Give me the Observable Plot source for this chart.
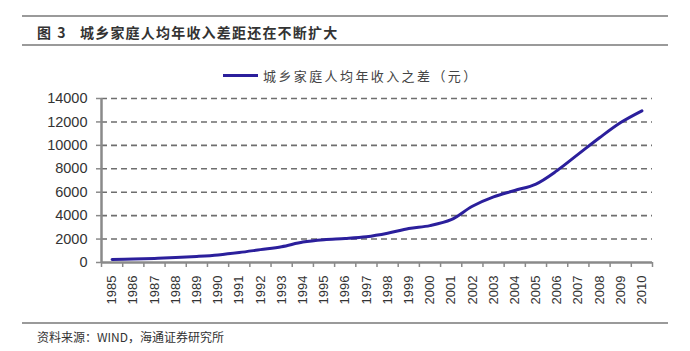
<!DOCTYPE html>
<html><head><meta charset="utf-8">
<script src="https://cdn.jsdelivr.net/npm/d3@7"></script>
<script src="https://cdn.jsdelivr.net/npm/@observablehq/plot@0.6"></script>
<style>
body{margin:0;background:#fff;}
#wrap{position:relative;width:690px;height:351px;overflow:hidden;background:#fff;}
.hr{position:absolute;left:22px;width:646px;background:#9a9a9a;}
#title{position:absolute;left:37px;top:22px;font-family:"Noto Sans CJK SC";font-weight:bold;font-size:14px;color:#333;white-space:nowrap;}
#title .f{letter-spacing:1.5px;}
#title .t{position:absolute;left:43px;top:0;letter-spacing:1.2px;}
#legend{position:absolute;left:223px;top:66px;font-family:"Noto Sans CJK SC";font-size:13px;color:#444;white-space:nowrap;display:flex;align-items:center;}
#legend .sw{display:inline-block;width:35px;height:2.5px;background:#2b1f9c;margin-right:5px;}
#legend .lt{letter-spacing:2.4px;}
#foot{position:absolute;left:37px;top:328px;font-family:"Noto Sans CJK SC";font-size:12px;color:#333;white-space:nowrap;}
#chart{position:absolute;left:0;top:0;}
</style></head>
<body>
<div id="wrap">
<div id="chart"></div>
<div class="hr" style="top:15px;height:1.5px"></div>
<div id="title"><span class="f">图&nbsp;3</span><span class="t">城乡家庭人均年收入差距还在不断扩大</span></div>
<div class="hr" style="top:44px;height:2px"></div>
<div id="legend"><span class="sw"></span><span class="lt">城乡家庭人均年收入之差（元）</span></div>
<div class="hr" style="top:322px;height:1.5px"></div>
<div id="foot">资料来源：WIND，海通证券研究所</div>
</div>
<script>
const years = [1985,1986,1987,1988,1989,1990,1991,1992,1993,1994,1995,1996,1997,1998,1999,2000,2001,2002,2003,2004,2005,2006,2007,2008,2009,2010];
const gap = [250,300,350,420,520,650,850,1100,1350,1750,1950,2050,2200,2500,2900,3150,3650,4800,5600,6150,6700,7850,9250,10650,11950,12950];
const yTicks = [0,2000,4000,6000,8000,10000,12000,14000];

const data = years.map((y,i)=>({year:y, value:gap[i]}));
const xMin = years[0]-0.5, xMax = years[years.length-1]+0.5;
const bounds = years.map(y=>y-0.5).concat([xMax]);

const chart = Plot.plot({
  width:690, height:351,
  marginLeft:101, marginRight:38, marginTop:98, marginBottom:89,
  style:{fontFamily:"'Liberation Sans', Arial, sans-serif", color:"#333", background:"transparent"},
  x:{domain:[xMin,xMax], axis:null},
  y:{domain:[0,14000], axis:null},
  marks:[
    Plot.gridY(yTicks.slice(1), {stroke:"#6e6e6e", strokeOpacity:1, strokeWidth:1.6, strokeDasharray:"6,4"}),
    Plot.axisY(yTicks, {tickSize:5, tickPadding:9, fontSize:14.5, tickFormat:d=>String(d), stroke:"#8a8a8a", strokeWidth:1.5, fill:"#333", label:null}),
    Plot.axisX(bounds, {tickSize:5, tickFormat:()=>"", stroke:"#8a8a8a", strokeWidth:1.5, label:null}),
    Plot.axisX(years, {tickSize:0, tickPadding:13, tickRotate:-90, tickFormat:d=>String(d), fontSize:13, fill:"#333", label:null}),
    Plot.ruleY([0], {stroke:"#8a8a8a", strokeWidth:2.5}),
    Plot.ruleX([xMin], {y1:0, y2:yTicks[yTicks.length-1], stroke:"#8a8a8a", strokeWidth:2.5}),
    Plot.line(data, {x:"year", y:"value", stroke:"#2b1f9c", strokeWidth:3, curve:"catmull-rom"})
  ]
});
document.getElementById("chart").appendChild(chart);
</script>
</body></html>
